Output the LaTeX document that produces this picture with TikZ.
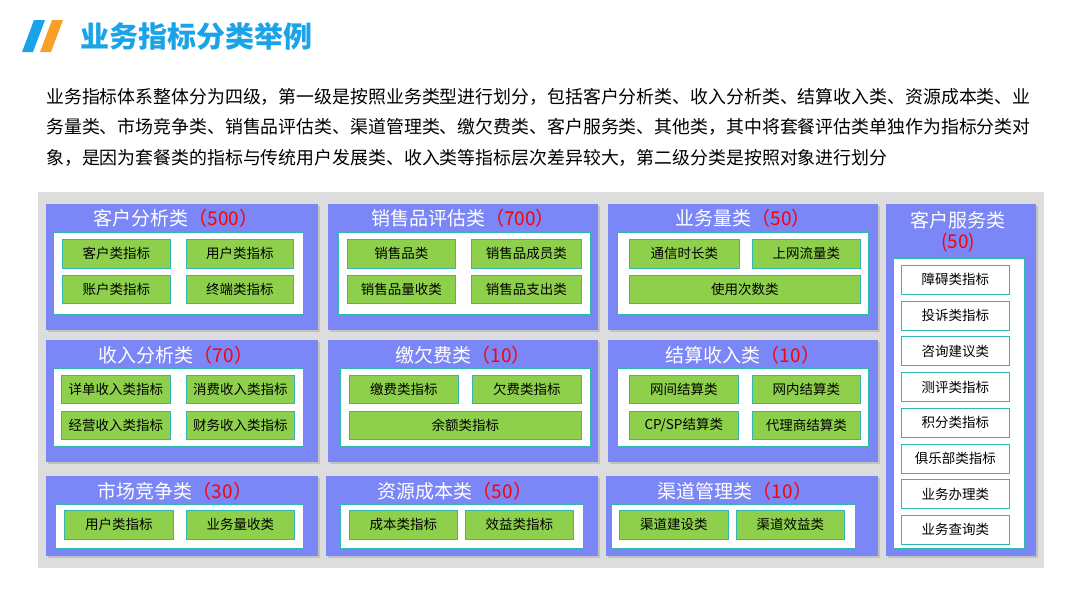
\documentclass[tikz,border=0pt]{standalone}
\usepackage{fontspec}
\setmainfont{Noto Sans CJK SC}
\usetikzlibrary{shadows}
\definecolor{titleblue}{HTML}{1AA3E8}
\definecolor{slashorange}{HTML}{F7A12A}
\definecolor{panelblue}{HTML}{7B86F7}
\definecolor{leafgreen}{HTML}{8ED04B}
\definecolor{edgeteal}{HTML}{2FB7B0}
\definecolor{bggray}{HTML}{DDDDDD}
\tikzset{
  panel/.style={fill=panelblue, draw=none, drop shadow={shadow xshift=2pt, shadow yshift=-2pt, fill=gray!70}},
  inner/.style={fill=white, draw=edgeteal, line width=0.8pt},
  leaf/.style={fill=leafgreen, draw=edgeteal, line width=0.6pt, font=\fontsize{13.5}{13.5}\selectfont, inner sep=0pt},
  wleaf/.style={fill=white, draw=edgeteal, line width=0.6pt, font=\fontsize{13.5}{13.5}\selectfont, inner sep=0pt},
  ptitle/.style={text=white, font=\fontsize{19}{19}\selectfont, inner sep=0pt}
}
% box from corners
\newcommand{\bx}[6]{\node[#1, minimum width={(#4)-(#2)}, minimum height={(#5)-(#3)}, anchor=north west] (#6) at (#2,{-(#3)}) {};}
\newcommand{\lf}[7]{\node[#1, minimum width={(#4)-(#2)}, minimum height={(#5)-(#3)}, anchor=north west] (#6) at (#2,{-(#3)}) {#7};}
\newcommand{\ttl}[4]{\node[ptitle] (#1) at (#2,-#3) {#4};}
\begin{document}
\begin{tikzpicture}[x=1pt,y=1pt]
\useasboundingbox (0,0) rectangle (1080,-608);
% header
\fill[titleblue] (34,-20) -- (45,-20) -- (33,-52) -- (22,-52) -- cycle;
\fill[slashorange] (52,-20) -- (63,-20) -- (51,-52) -- (40,-52) -- cycle;
\node[anchor=west, text=titleblue, font=\fontsize{29}{29}\selectfont\bfseries, inner sep=0pt] (title) at (80,-36) {业务指标分类举例};
\node[anchor=north west, align=left, text width=1000pt, font=\fontsize{17.9}{30.5}\selectfont, inner sep=0pt] (intro) at (46,-88)
  {业务指标体系整体分为四级，第一级是按照业务类型进行划分，包括客户分析类、收入分析类、结算收入类、资源成本类、业\\务量类、市场竞争类、销售品评估类、渠道管理类、缴欠费类、客户服务类、其他类，其中将套餐评估类单独作为指标分类对\\象，是因为套餐类的指标与传统用户发展类、收入类等指标层次差异较大，第二级分类是按照对象进行划分};
\fill[bggray] (38,-192) rectangle (1044,-568);
% row 1
\bx{panel}{46}{204}{318}{330}{p11}
\ttl{t11}{176}{218}{客户分析类\textcolor{red}{（500）}}
\bx{inner}{53}{232}{303}{314}{i11}
\lf{leaf}{62}{239}{170}{268}{a1}{客户类指标}
\lf{leaf}{186}{239}{293}{268}{a2}{用户类指标}
\lf{leaf}{62}{275}{170}{303}{a3}{账户类指标}
\lf{leaf}{186}{275}{293}{303}{a4}{终端类指标}
\bx{panel}{328}{204}{598}{330}{p12}
\ttl{t12}{463}{218}{销售品评估类\textcolor{red}{（700）}}
\bx{inner}{338}{232}{590}{314}{i12}
\lf{leaf}{347}{239}{455}{268}{b1}{销售品类}
\lf{leaf}{471}{239}{581}{268}{b2}{销售品成员类}
\lf{leaf}{347}{275}{455}{303}{b3}{销售品量收类}
\lf{leaf}{471}{275}{581}{303}{b4}{销售品支出类}
\bx{panel}{608}{204}{878}{330}{p13}
\ttl{t13}{743}{218}{业务量类\textcolor{red}{（50）}}
\bx{inner}{617}{232}{868}{314}{i13}
\lf{leaf}{629}{239}{739}{268}{c1}{通信时长类}
\lf{leaf}{752}{239}{860}{268}{c2}{上网流量类}
\lf{leaf}{629}{275}{860}{303}{c3}{使用次数类}
% row 2
\bx{panel}{46}{340}{318}{462}{p21}
\ttl{t21}{176}{355}{收入分析类\textcolor{red}{（70）}}
\bx{inner}{53}{368}{303}{446}{i21}
\lf{leaf}{61}{375}{170}{403}{d1}{详单收入类指标}
\lf{leaf}{186}{375}{294}{403}{d2}{消费收入类指标}
\lf{leaf}{61}{411}{170}{439}{d3}{经营收入类指标}
\lf{leaf}{186}{411}{294}{439}{d4}{财务收入类指标}
\bx{panel}{328}{340}{598}{462}{p22}
\ttl{t22}{463}{355}{缴欠费类\textcolor{red}{（10）}}
\bx{inner}{340}{368}{590}{446}{i22}
\lf{leaf}{349}{375}{458}{403}{e1}{缴费类指标}
\lf{leaf}{472}{375}{581}{403}{e2}{欠费类指标}
\lf{leaf}{349}{411}{581}{439}{e3}{余额类指标}
\bx{panel}{608}{340}{878}{462}{p23}
\ttl{t23}{743}{355}{结算收入类\textcolor{red}{（10）}}
\bx{inner}{617}{368}{868}{446}{i23}
\lf{leaf}{629}{375}{738}{403}{f1}{网间结算类}
\lf{leaf}{752}{375}{860}{403}{f2}{网内结算类}
\lf{leaf}{629}{411}{738}{439}{f3}{CP/SP结算类}
\lf{leaf}{752}{411}{860}{439}{f4}{代理商结算类}
% row 3
\bx{panel}{46}{476}{318}{556}{p31}
\ttl{t31}{175}{491}{市场竞争类\textcolor{red}{（30）}}
\bx{inner}{55}{504}{303}{548}{i31}
\lf{leaf}{64}{510}{173}{539}{g1}{用户类指标}
\lf{leaf}{186}{510}{294}{539}{g2}{业务量收类}
\bx{panel}{326}{476}{598}{556}{p32}
\ttl{t32}{455}{491}{资源成本类\textcolor{red}{（50）}}
\bx{inner}{340}{504}{583}{548}{i32}
\lf{leaf}{349}{510}{457}{539}{h1}{成本类指标}
\lf{leaf}{465}{510}{573}{539}{h2}{效益类指标}
\bx{panel}{606}{476}{878}{556}{p33}
\ttl{t33}{735}{491}{渠道管理类\textcolor{red}{（10）}}
\bx{inner}{611}{504}{855}{548}{i33}
\lf{leaf}{619}{510}{728}{539}{k1}{渠道建设类}
\lf{leaf}{736}{510}{844}{539}{k2}{渠道效益类}
% column 4
\bx{panel}{886}{204}{1036}{556}{p4}
\ttl{t4a}{958}{220}{客户服务类}
\ttl{t4b}{958}{243}{\textcolor{red}{(50)}}
\bx{inner}{893}{258}{1024}{548}{i4}
\foreach \lbl [count=\i] in {障碍类指标,投诉类指标,咨询建议类,测评类指标,积分类指标,俱乐部类指标,业务办理类,业务查询类}
  {\lf{wleaf}{901}{265+(\i-1)*35.7}{1009}{294+(\i-1)*35.7}{s\i}{\lbl}}
\end{tikzpicture}
\end{document}
